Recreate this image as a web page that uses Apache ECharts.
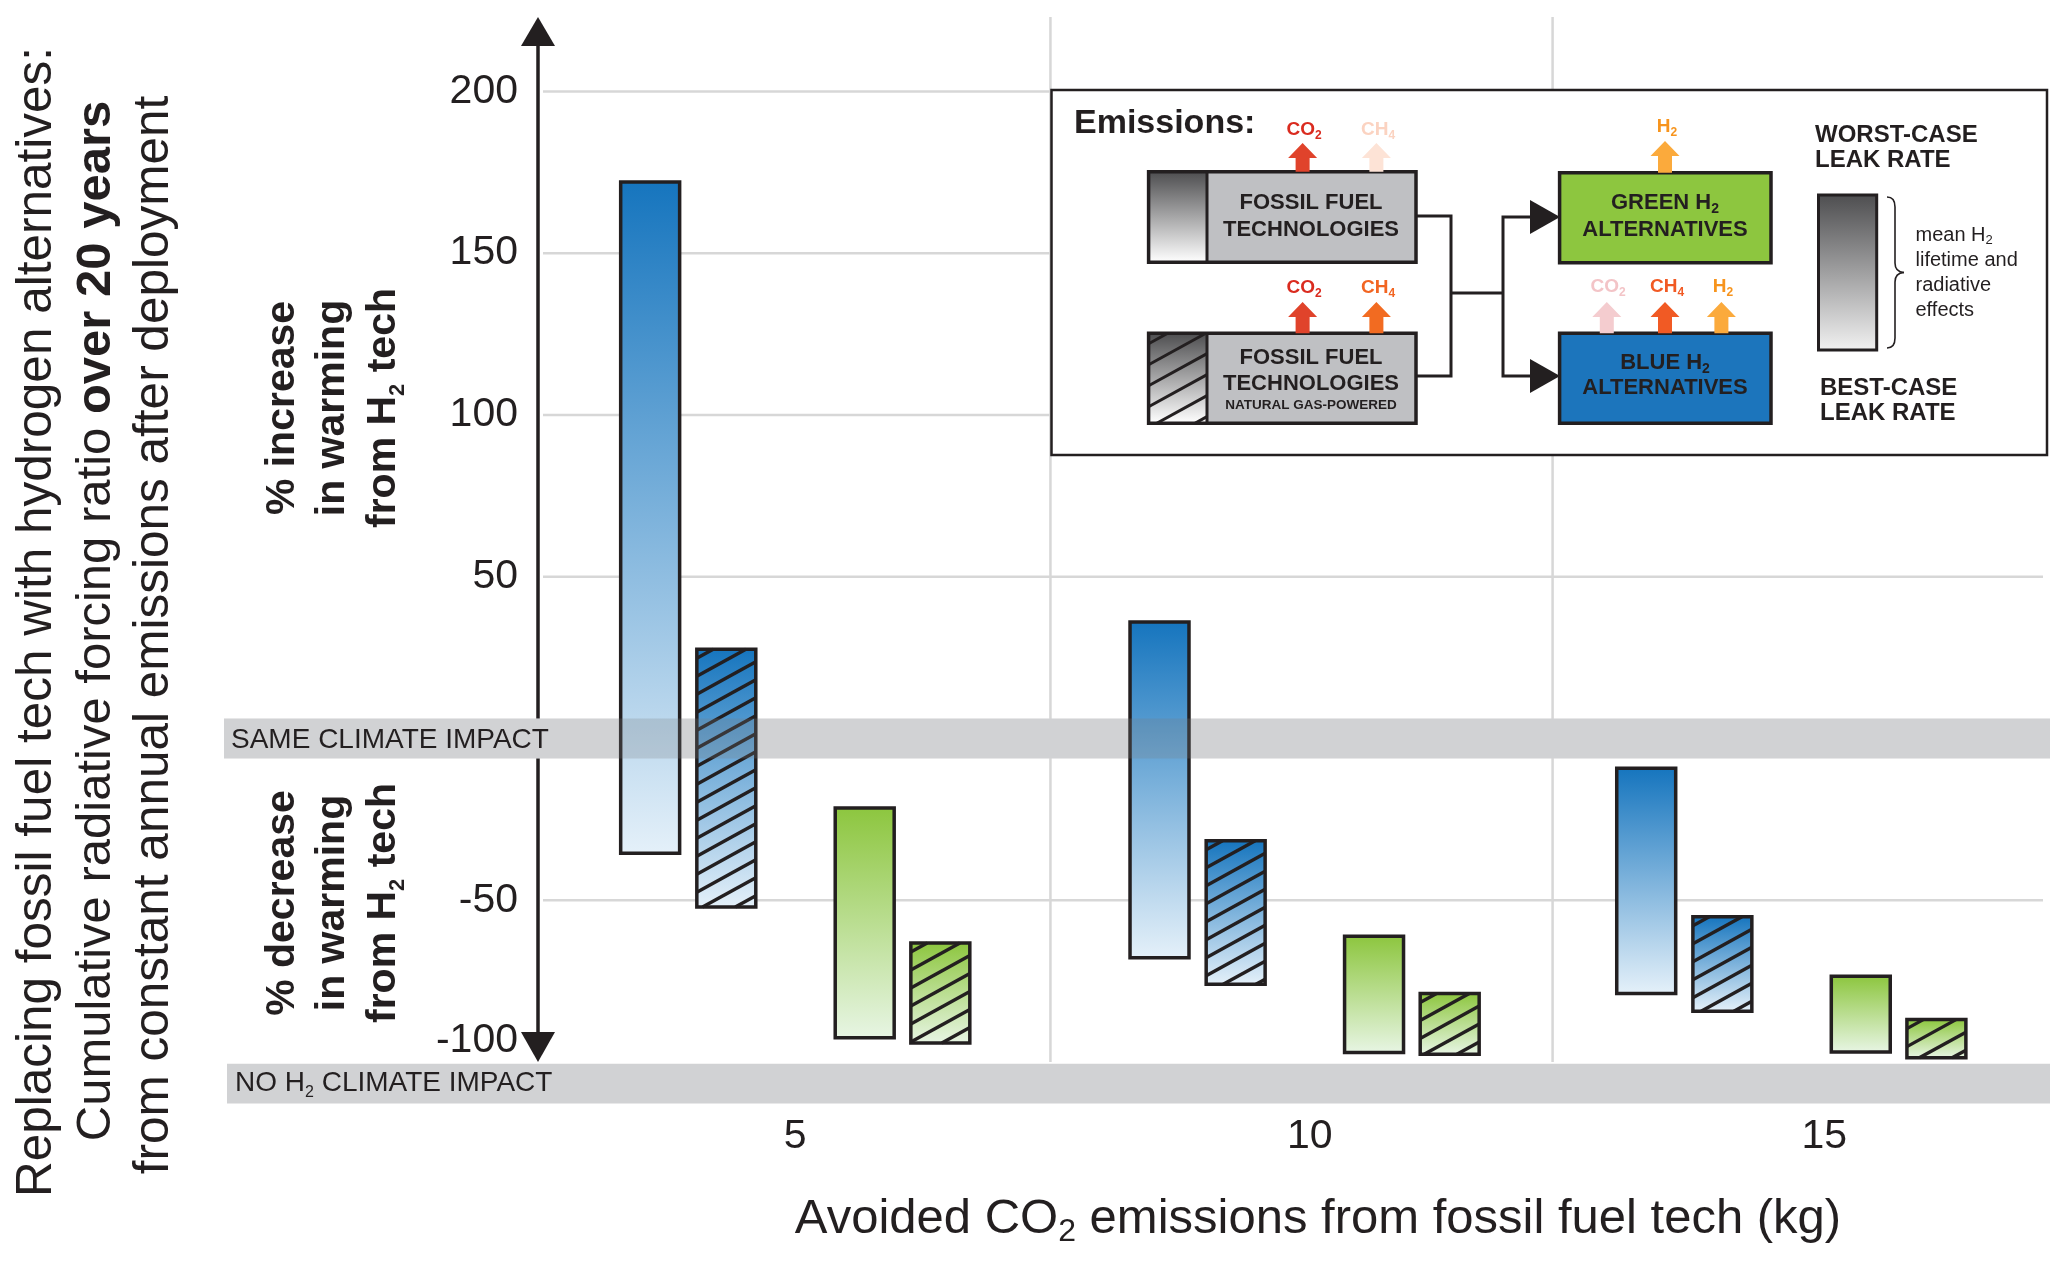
<!DOCTYPE html>
<html><head><meta charset="utf-8">
<script src="https://cdn.jsdelivr.net/npm/echarts@6/dist/echarts.min.js"></script>
<style>html,body{margin:0;padding:0;background:#fff}#c{width:2067px;height:1265px}</style>
</head><body><div id="c"></div>
<script>
// ---------------- DATA ----------------
const categories = [5, 10, 15];               // avoided CO2 emissions (kg)
const yTickValues = [200, 150, 100, 50, -50, -100];
const blueLow     = [-35.5, -67.8, -78.8];
const blueHigh    = [172.0, 36.0, -9.2];
const blueNGLow   = [-52.1, -76.0, -84.3];
const blueNGHigh  = [27.6, -31.6, -55.1];
const greenLow    = [-92.5, -97.1, -96.9];
const greenHigh   = [-21.5, -61.1, -73.5];
const greenNGLow  = [-94.1, -97.6, -98.7];
const greenNGHigh = [-63.2, -78.8, -86.9];

// ---------------- LAYOUT / STYLE ----------------
const FONT = '"Liberation Sans", Arial, Helvetica, sans-serif';
const INK = '#231F20';
const X_MIN = 2.5, X_MAX = 17.126, Y_MIN = -100, Y_MAX = 223;
const groupShift = [0, -0.05, -0.32];
const BAR_W = 0.573;
const sepX = [7.48, 12.36];
const BAND_HALF = 6.2, NO_BAND_BOTTOM = -112.8;
const BLUE = ['#1675BE', '#E4F0F9'];
const GREEN = ['#8DC63F', '#E7F5E3'];

const chart = echarts.init(document.getElementById('c'), null, {renderer: 'canvas', width: 2067, height: 1265});

function grad(c0, c1) {
  return new echarts.graphic.LinearGradient(0, 0, 0, 1, [{offset: 0, color: c0}, {offset: 1, color: c1}]);
}
function hatch(L, T, w, H, k, s, lw, color) {
  const out = [];
  for (let c = T + s * 0.5; c < T + H + k * w; c += s) {
    const u0 = Math.max(0, (c - T - H) / k), u1 = Math.min(w, (c - T) / k);
    if (u1 > u0) out.push({type: 'line', shape: {x1: L + u0, y1: c - k * u0, x2: L + u1, y2: c - k * u1},
      style: {stroke: color, lineWidth: lw, lineCap: 'butt'}});
  }
  return out;
}
function richText(segs, size, bold, fill, subSize, subDrop) {
  const lh = Math.round(size * 1.2);
  const base = {fontFamily: FONT, fontWeight: bold ? 'bold' : 'normal', fill: fill, color: fill};
  let text = '';
  segs.forEach((s, i) => { if (s) text += (i % 2 ? '{s|' : '{m|') + s + '}'; });
  return {
    text: text,
    rich: {
      m: Object.assign({fontSize: size, lineHeight: lh}, base),
      s: Object.assign({fontSize: subSize, lineHeight: lh - 2 * subDrop, verticalAlign: 'bottom'}, base)
    }
  };
}
const g = [];
function addText(x, y, content, size, o) {
  o = o || {};
  const style = {fill: o.fill || INK, fontFamily: FONT, fontSize: size, fontWeight: o.bold ? 'bold' : 'normal',
    align: o.align || 'center', textAlign: o.align || 'center', verticalAlign: 'middle', textVerticalAlign: 'middle'};
  if (typeof content === 'string') style.text = content; else Object.assign(style, content);
  g.push({type: 'text', x: x, y: y, rotation: o.rot || 0, z: 20, silent: true, style: style});
}
function addRect(x, y, w, h, fill, stroke, lw) {
  g.push({type: 'rect', z: 12, silent: true, shape: {x: x, y: y, width: w, height: h},
    style: {fill: fill || 'none', stroke: stroke || null, lineWidth: lw || 0}});
}
function addLine(pts, lw) {
  g.push({type: 'polyline', z: 13, silent: true, shape: {points: pts}, style: {stroke: INK, lineWidth: lw || 3, fill: null}});
}
function addCurve(x1, y1, cx, cy, x2, y2, lw) {
  g.push({type: 'bezierCurve', z: 13, silent: true, shape: {x1: x1, y1: y1, cpx1: cx, cpy1: cy, x2: x2, y2: y2},
    style: {stroke: INK, lineWidth: lw, fill: null}});
}
function addPoly(pts, fill) {
  g.push({type: 'polygon', z: 13, silent: true, shape: {points: pts}, style: {fill: fill}});
}
function upArrow(cx, tip, base, color) {
  addPoly([[cx, tip], [cx + 14.5, tip + 15], [cx + 7, tip + 15], [cx + 7, base], [cx - 7, base], [cx - 7, tip + 15], [cx - 14.5, tip + 15]], color);
}

// ---- axis titles ----
const ROT = Math.PI / 2;
addText(37, 622, 'Replacing fossil fuel tech with hydrogen alternatives:', 49.5, {rot: ROT});
addText(96, 621, {text: '{m|Cumulative radiative forcing ratio }{b|over 20 years}', rich: {
  m: {fontSize: 49, fontFamily: FONT, fill: INK, color: INK},
  b: {fontSize: 49, fontFamily: FONT, fontWeight: 'bold', fill: INK, color: INK}}}, 49, {rot: ROT});
addText(154, 635, 'from constant annual emissions after deployment', 49.5, {rot: ROT});
addText(283, 408, '% increase', 41, {bold: true, rot: ROT});
addText(333, 408, 'in warming', 41, {bold: true, rot: ROT});
addText(384, 408, richText(['from H', '2', ' tech'], 41, true, INK, 22, 19), 41, {rot: ROT});
addText(283, 903, '% decrease', 41, {bold: true, rot: ROT});
addText(333, 903, 'in warming', 41, {bold: true, rot: ROT});
addText(384, 903, richText(['from H', '2', ' tech'], 41, true, INK, 22, 19), 41, {rot: ROT});
addText(1318, 1219, richText(['Avoided CO', '2', ' emissions from fossil fuel tech (kg)'], 49, false, INK, 32, 19), 49);

// ---- inset legend diagram ----
addRect(1051.5, 90, 995.5, 365, '#FFFFFF', INK, 2.5);
addText(1074, 124, 'Emissions:', 34, {bold: true, align: 'left'});
// fossil fuel box (top)
addRect(1148.6, 171.7, 58.4, 90.6, grad('#4E4E50', '#FFFFFF'));
addRect(1207, 171.7, 209.4, 90.6, '#BFC0C3');
addRect(1148.6, 171.7, 267.4, 90.6, null, INK, 3.5);
addLine([[1207, 171.7], [1207, 262.3]], 3);
addText(1311, 203, 'FOSSIL FUEL', 22, {bold: true});
addText(1311, 230, 'TECHNOLOGIES', 22, {bold: true});
// fossil fuel box (natural gas)
addRect(1148.6, 333.3, 58.4, 90, grad('#4E4E50', '#FFFFFF'));
hatch(1148.6, 333.3, 58.4, 90, 0.55, 21, 3, INK).forEach(l => { l.z = 13; l.silent = true; g.push(l); });
addRect(1207, 333.3, 209.4, 90, '#BFC0C3');
addRect(1148.6, 333.3, 267.4, 90, null, INK, 3.5);
addLine([[1207, 333.3], [1207, 423.3]], 3);
addText(1311, 358, 'FOSSIL FUEL', 22, {bold: true});
addText(1311, 384, 'TECHNOLOGIES', 22, {bold: true});
addText(1311, 405, 'NATURAL GAS-POWERED', 13.5, {bold: true});
// green & blue boxes
addRect(1559.6, 172.7, 211.4, 90, '#8DC63F', INK, 3.5);
addText(1665, 203, richText(['GREEN H', '2'], 22, true, INK, 14, 9), 22);
addText(1665, 230, 'ALTERNATIVES', 22, {bold: true});
addRect(1559.6, 333.3, 211.4, 90, '#1C75BC', INK, 3.5);
addText(1665, 363, richText(['BLUE H', '2'], 22, true, INK, 14, 9), 22);
addText(1665, 388, 'ALTERNATIVES', 22, {bold: true});
// connectors
addLine([[1416, 216], [1451, 216], [1451, 376], [1416, 376]], 3);
addLine([[1451, 293], [1503, 293]], 3);
addLine([[1531, 217], [1503, 217], [1503, 376], [1531, 376]], 3);
addPoly([[1530, 200], [1560, 217], [1530, 234]], INK);
addPoly([[1530, 359], [1560, 376], [1530, 393]], INK);
// emission arrows + labels
upArrow(1302.6, 143, 171.7, '#E0432B');
upArrow(1376.4, 143, 171.7, '#FDE3D6');
upArrow(1665, 141, 172.7, '#FBAA3C');
upArrow(1302.6, 302, 333.3, '#E0432B');
upArrow(1376.4, 302, 333.3, '#F26B21');
upArrow(1606.8, 302, 333.3, '#F4CCCF');
upArrow(1665, 302, 333.3, '#F15A24');
upArrow(1721.4, 302, 333.3, '#FBAA3C');
addText(1304, 130, richText(['CO', '2'], 19, true, '#DA2B1F', 12, 7), 19);
addText(1378, 130, richText(['CH', '4'], 19, true, '#FBD3C1', 12, 7), 19);
addText(1667, 127, richText(['H', '2'], 19, true, '#F7941D', 12, 7), 19);
addText(1304, 288, richText(['CO', '2'], 19, true, '#DA2B1F', 12, 7), 19);
addText(1378, 288, richText(['CH', '4'], 19, true, '#F26522', 12, 7), 19);
addText(1608, 287, richText(['CO', '2'], 19, true, '#F3C4C7', 12, 7), 19);
addText(1667, 287, richText(['CH', '4'], 19, true, '#F15A24', 12, 7), 19);
addText(1723, 287, richText(['H', '2'], 19, true, '#F7941D', 12, 7), 19);
// leak-rate key
addText(1815, 135, 'WORST-CASE', 24, {bold: true, align: 'left'});
addText(1815, 160, 'LEAK RATE', 24, {bold: true, align: 'left'});
addRect(1818.5, 195, 58.2, 155, grad('#4D4D4F', '#F2F2F2'), INK, 3);
addCurve(1887, 197, 1895, 197, 1895, 207, 1.6);
addLine([[1895, 207], [1895, 263]], 1.6);
addCurve(1895, 263, 1895, 272, 1904, 272.5, 1.6);
addCurve(1904, 272.5, 1895, 273, 1895, 282, 1.6);
addLine([[1895, 282], [1895, 338]], 1.6);
addCurve(1895, 338, 1895, 348, 1887, 348, 1.6);
addText(1915.5, 235, richText(['mean H', '2'], 20, false, INK, 13, 7), 20, {align: 'left'});
addText(1915.5, 260, 'lifetime and', 20, {align: 'left'});
addText(1915.5, 285, 'radiative', 20, {align: 'left'});
addText(1915.5, 310, 'effects', 20, {align: 'left'});
addText(1820, 388, 'BEST-CASE', 24, {bold: true, align: 'left'});
addText(1820, 413, 'LEAK RATE', 24, {bold: true, align: 'left'});

// ---------------- SERIES ----------------
function barSeries(name, lows, highs, off, colors, hatched) {
  return {
    type: 'custom', name: name, z: 3, clip: false, silent: true,
    data: categories.map((c, i) => [c + groupShift[i] + off, lows[i], highs[i]]),
    encode: {x: 0, y: [1, 2]},
    renderItem: function (params, api) {
      const x = api.value(0), lo = api.value(1), hi = api.value(2);
      const pt = api.coord([x, hi]), pb = api.coord([x, lo]);
      const w = api.size([BAR_W, 0])[0];
      const L = pt[0] - w / 2, T = pt[1], H = pb[1] - pt[1];
      const children = [{type: 'rect', shape: {x: L, y: T, width: w, height: H}, style: {fill: grad(colors[0], colors[1])}}];
      if (hatched) hatch(L, T, w, H, 0.55, 18, 3.4, INK).forEach(l => children.push(l));
      children.push({type: 'rect', shape: {x: L, y: T, width: w, height: H}, style: {fill: null, stroke: INK, lineWidth: 3.5}});
      return {type: 'group', children: children};
    }
  };
}

const decoration = {
  type: 'custom', name: 'frame', z: 1, clip: false, silent: true,
  data: [[X_MIN, 0]],
  renderItem: function (params, api) {
    const cs = params.coordSys;
    const ch = [];
    yTickValues.filter(v => v !== Y_MIN).forEach(v => {
      const y = api.coord([X_MIN, v])[1];
      ch.push({type: 'line', shape: {x1: cs.x + 5, y1: y, x2: cs.x + cs.width, y2: y}, style: {stroke: '#D7D7D7', lineWidth: 2.5}});
    });
    sepX.forEach(v => {
      const x = api.coord([v, 0])[0];
      ch.push({type: 'line', shape: {x1: x, y1: cs.y, x2: x, y2: cs.y + cs.height}, style: {stroke: '#D7D7D7', lineWidth: 2.5}});
    });
    const x0 = cs.x, yt = api.coord([X_MIN, Y_MAX])[1], yb = api.coord([X_MIN, Y_MIN])[1];
    ch.push({type: 'line', shape: {x1: x0, y1: yt + 25, x2: x0, y2: yb - 25}, style: {stroke: INK, lineWidth: 3.5}});
    ch.push({type: 'polygon', shape: {points: [[x0, yt], [x0 - 17, yt + 29], [x0 + 17, yt + 29]]}, style: {fill: INK}});
    ch.push({type: 'polygon', shape: {points: [[x0, yb], [x0 - 17, yb - 30], [x0 + 17, yb - 30]]}, style: {fill: INK}});
    const b1 = api.coord([X_MIN, BAND_HALF])[1], b2 = api.coord([X_MIN, -BAND_HALF])[1];
    ch.push({type: 'rect', shape: {x: cs.x - 314, y: b1, width: cs.width + 321, height: b2 - b1}, style: {fill: '#EFEFF0'}});
    const n2 = api.coord([X_MIN, NO_BAND_BOTTOM])[1];
    ch.push({type: 'rect', shape: {x: cs.x - 311, y: yb + 1.8, width: cs.width + 318, height: n2 - yb - 1.8}, style: {fill: '#D1D2D4'}});
    return {type: 'group', children: ch};
  }
};

const overlay = {
  type: 'custom', name: 'bands', z: 4, clip: false, silent: true,
  data: [[X_MIN, 0]],
  renderItem: function (params, api) {
    const cs = params.coordSys;
    const b1 = api.coord([X_MIN, BAND_HALF])[1], b2 = api.coord([X_MIN, -BAND_HALF])[1];
    const yb = api.coord([X_MIN, Y_MIN])[1], n2 = api.coord([X_MIN, NO_BAND_BOTTOM])[1];
    const noTxt = richText(['NO H', '2', ' CLIMATE IMPACT'], 28, false, INK, 16, 11);
    return {type: 'group', children: [
      {type: 'rect', shape: {x: cs.x - 314, y: b1, width: cs.width + 321, height: b2 - b1}, style: {fill: 'rgba(120,122,128,0.25)'}},
      {type: 'text', style: {text: 'SAME CLIMATE IMPACT', x: cs.x - 307, y: (b1 + b2) / 2 + 2, fill: INK,
        fontFamily: FONT, fontSize: 28, align: 'left', verticalAlign: 'middle'}},
      {type: 'text', style: Object.assign({x: cs.x - 303, y: (yb + n2) / 2 + 1, fill: INK, fontFamily: FONT, fontSize: 28,
        align: 'left', verticalAlign: 'middle'}, noTxt)}
    ]};
  }
};

const option = {
  animation: false,
  backgroundColor: '#FFFFFF',
  grid: {left: 538, right: 24, top: 17, bottom: 203, containLabel: false, outerBoundsMode: 'none'},
  xAxis: {
    type: 'value', min: X_MIN, max: X_MAX, interval: 2.5,
    axisLine: {show: true, lineStyle: {color: INK, width: 3.5}},
    axisTick: {show: false}, splitLine: {show: false},
    axisLabel: {
      margin: 54, fontSize: 41, lineHeight: 41, color: INK, fontFamily: FONT,
      formatter: v => (categories.indexOf(Math.round(v * 1000) / 1000) >= 0 ? String(Math.round(v)) : '')
    }
  },
  yAxis: {
    type: 'value', min: Y_MIN, max: Y_MAX, interval: 50,
    axisLine: {show: false}, axisTick: {show: false}, splitLine: {show: false},
    axisLabel: {
      margin: 20, fontSize: 41, color: INK, fontFamily: FONT,
      formatter: v => {
        const r = Math.round(v);
        if (yTickValues.indexOf(r) < 0 || Math.abs(v - r) > 1e-6) return '';
        return r === Y_MIN ? '{lo|' + r + '}' : String(r);
      },
      rich: {lo: {fontSize: 41, color: INK, fontFamily: FONT, padding: [0, 0, 42, 0]}}
    }
  },
  graphic: {elements: g},
  series: [
    decoration,
    barSeries('Blue H2 alternatives', blueLow, blueHigh, -1.41, BLUE, false),
    barSeries('Blue H2 vs natural-gas fossil tech', blueNGLow, blueNGHigh, -0.67, BLUE, true),
    barSeries('Green H2 alternatives', greenLow, greenHigh, 0.675, GREEN, false),
    barSeries('Green H2 vs natural-gas fossil tech', greenNGLow, greenNGHigh, 1.41, GREEN, true),
    overlay
  ]
};
chart.setOption(option);
</script>
</body></html>
